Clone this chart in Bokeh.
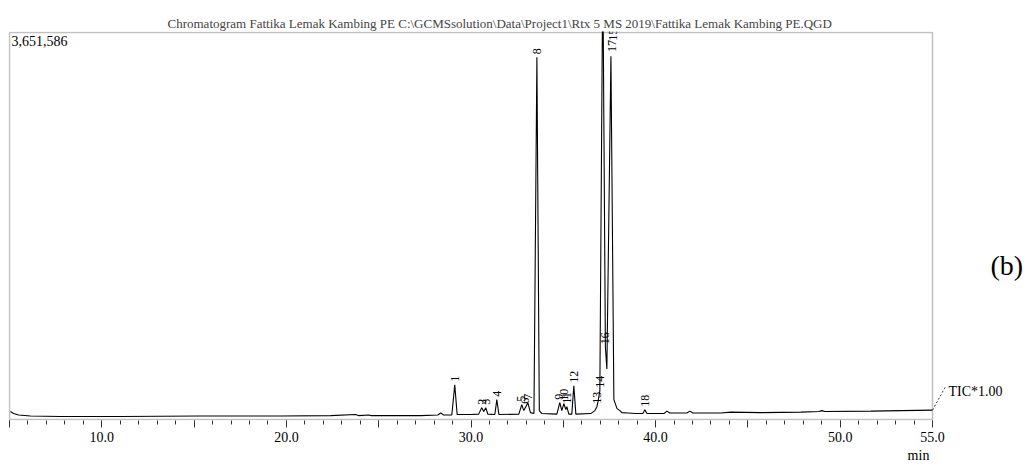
import math
from bokeh.plotting import figure
from bokeh.models import Range1d, FixedTicker, Label, BoxAnnotation, ColumnDataSource
from bokeh.core.properties import value
from bokeh.embed import file_html
from bokeh.resources import INLINE

# ---- data ----
rt = [5.05, 5.22, 5.49, 6.14, 7.76, 11.0, 15.35, 19.7, 22.4, 23.75, 23.9, 24.46, 24.6,
      27.28, 28.2, 28.36, 28.52, 28.96, 29.12, 29.25, 29.99, 30.42, 30.58, 30.69, 30.80,
      30.91, 31.29, 31.40, 31.51, 32.59, 32.75, 32.86, 32.97, 33.08, 33.22, 33.41, 33.57,
      33.70, 33.84, 34.65, 34.81, 34.92, 35.03, 35.14, 35.19, 35.30, 35.46, 35.57, 35.68,
      36.49, 36.71, 36.82, 36.88, 36.98, 37.14, 37.28, 37.36, 37.58, 37.74, 37.91, 38.07,
      38.17, 38.50, 38.93, 39.31, 39.42, 39.53, 40.45, 40.61, 40.77, 41.69, 41.86, 42.02,
      43.54, 44.08, 45.70, 47.87, 48.85, 49.01, 49.17, 51.67, 55.0]
tic = [75000, 56000, 42000, 33000, 28000, 28000, 33000, 33000, 37000, 47000, 37000, 42000, 37000,
       37000, 42000, 61000, 42000, 42000, 327000, 47000, 47000, 51000, 112000, 75000, 112000,
       51000, 47000, 187000, 47000, 51000, 140000, 84000, 121000, 159000, 65000, 56000, 3418000,
       84000, 56000, 51000, 159000, 84000, 149000, 93000, 121000, 51000, 51000, 318000, 51000,
       56000, 84000, 121000, 168000, 271000, 4300000, 682000, 476000, 3427000, 187000, 103000, 84000,
       65000, 61000, 56000, 56000, 93000, 56000, 56000, 79000, 61000, 61000, 79000, 61000,
       61000, 70000, 65000, 70000, 75000, 84000, 75000, 79000, 89000]

peak_ids = ["1", "2", "3", "4", "5", "6", "7", "8", "9", "10", "11", "12", "13", "14",
            "16", "17", "15", "18"]
peak_rt = [29.12, 30.58, 30.80, 31.40, 32.72, 32.95, 33.10, 33.57, 34.79, 35.03, 35.19, 35.57,
           36.82, 36.98, 37.28, 37.62, 37.68, 39.42]
peak_lab_y = [327000, 112000, 112000, 187000, 140000, 121000, 159000, 3418000, 159000, 149000,
              121000, 318000, 121000, 271000, 682000, 3440000, 3545000, 93000]

y_max = 3651586
t_start, t_end = 5, 55
x_major = [5, 10, 15, 20, 25, 30, 35, 40, 45, 50, 55]
x_minor = list(range(5, 56))
x_labels = {5: "", 10: "10.0", 15: "", 20: "20.0", 25: "", 30: "30.0", 35: "",
            40: "40.0", 45: "", 50: "50.0",
            55: "55.0\nmin\u00a0\u00a0\u00a0\u00a0\u00a0\u00a0\u00a0\u00a0"}

# TIC annotation leader (time, intensity) and label positions
tic_leader_x = [55.0, 55.7]
tic_leader_y = [89000, 308000]

SERIF = "Liberation Serif"
PX_PER_MIN = 18.46
INT_PER_PX = 9339

p = figure(width=1032, height=466, output_backend="svg", toolbar_location=None,
           x_range=Range1d(t_start - 1 / PX_PER_MIN, t_start + 1023 / PX_PER_MIN),
           y_range=Range1d(-INT_PER_PX, y_max + INT_PER_PX),
           y_axis_location=None,
           min_border_left=8, min_border_right=0, min_border_top=31, min_border_bottom=42)

p.title.text = ("Chromatogram Fattika Lemak Kambing PE C:\\GCMSsolution\\Data\\Project1\\"
                "Rtx 5 MS 2019\\Fattika Lemak Kambing PE.QGD")
p.title.text_font = SERIF
p.title.text_font_size = "13px"
p.title.text_font_style = "normal"
p.title.align = "left"
p.title.offset = 159
p.title.standoff = 2

p.grid.visible = False
p.outline_line_color = None
p.background_fill_color = "white"
p.border_fill_color = "white"

# chromatogram frame box
p.add_layout(BoxAnnotation(left=t_start, right=t_end, bottom=0, top=y_max,
                           fill_alpha=0, line_color="#333333", line_width=1.5))

ax = p.xaxis[0]
ax.ticker = FixedTicker(ticks=x_major, minor_ticks=x_minor)
ax.major_label_overrides = x_labels
ax.major_label_text_font = SERIF
ax.major_label_text_font_size = "14px"
ax.major_label_text_color = "black"
ax.major_label_text_line_height = 1.25
ax.major_tick_in = 0
ax.major_tick_out = 7
ax.minor_tick_in = 0
ax.minor_tick_out = 4
ax.axis_line_color = None
ax.major_tick_line_color = "#333333"
ax.minor_tick_line_color = "#333333"
ax.major_label_standoff = 2

src = ColumnDataSource(dict(x=rt, y=tic))
p.line("x", "y", source=src, line_color="black", line_width=1.1)

lab = ColumnDataSource(dict(x=peak_rt, y=peak_lab_y, t=peak_ids))
p.text("x", "y", text="t", source=lab, angle=math.pi / 2, text_align="left",
       text_baseline="middle", y_offset=-3, text_font=value(SERIF),
       text_font_size="12px", text_color="black")

p.add_layout(Label(x=t_start, y=y_max, x_offset=2, y_offset=-4, text="3,651,586",
                   text_font=SERIF, text_font_size="14px", text_baseline="top",
                   text_color="black"))

p.line(tic_leader_x, tic_leader_y, line_dash="2 2", line_color="#444444", line_width=1)
p.add_layout(Label(x=55.87, y=262000, text="TIC*1.00", text_font=SERIF,
                   text_font_size="14px", text_baseline="middle", text_color="black"))

p.add_layout(Label(x=58.14, y=1450000, text="(b)", text_font=SERIF,
                   text_font_size="28px", text_baseline="middle", text_color="black"))

open("out.html", "w").write(file_html(p, INLINE))
